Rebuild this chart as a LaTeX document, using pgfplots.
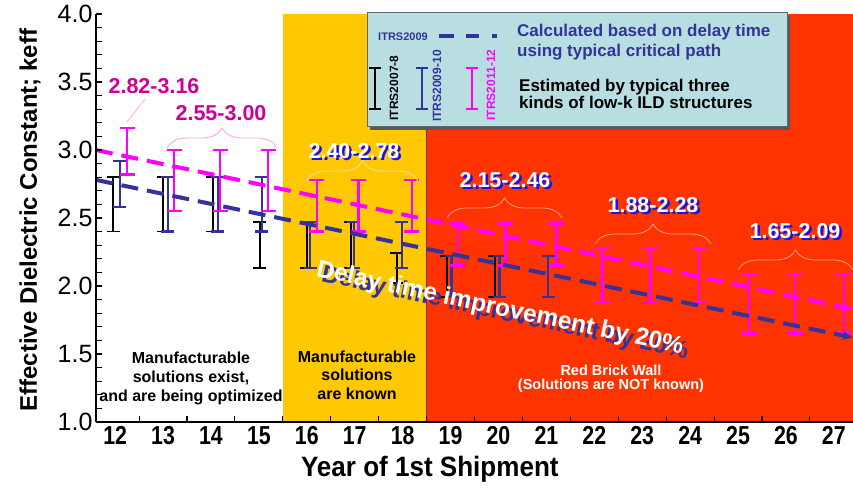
\documentclass[border=0pt]{standalone}
\usepackage{fontspec}
\setmainfont{Liberation Sans}
\newfontfamily\narrow[FakeStretch=0.82]{Liberation Sans}
\newfontfamily\semi[FakeStretch=0.93]{Liberation Sans}
\usepackage{pgfplots}
\pgfplotsset{compat=1.18}
\usetikzlibrary{arrows.meta,decorations.pathreplacing}

\definecolor{ybg}{RGB}{255,200,0}
\definecolor{rbg}{RGB}{255,51,0}
\definecolor{edge}{RGB}{110,60,0}
\definecolor{nblue}{RGB}{51,51,153}
\definecolor{mag}{RGB}{255,0,255}
\definecolor{labmag}{RGB}{204,0,153}
\definecolor{legbg}{RGB}{184,222,226}
\definecolor{shblue}{RGB}{20,20,235}
\definecolor{pinkline}{RGB}{255,160,225}
\definecolor{braceY}{RGB}{255,225,160}
\definecolor{braceR}{RGB}{255,160,130}

\newcommand{\fs}[1]{\fontsize{#1bp}{#1bp}\selectfont}

\pgfplotsset{
  ebar/.style n args={3}{draw=none, mark=none, forget plot,
    error bars/.cd, y dir=both, y explicit,
    error bar style={line width=#2, draw=#1},
    error mark options={rotate=90, line width=#2, draw=#1, mark size=#3}},
}

\begin{document}
\begin{tikzpicture}
\useasboundingbox (0,0) rectangle (853bp,489bp);
\begin{axis}[
    at={(96bp,67bp)}, anchor=south west,
    scale only axis, width=757bp, height=408bp,
    xmin=11.6, xmax=27.4, ymin=1, ymax=4,
    axis x line*=bottom, axis y line*=left,
    axis line style={line width=2.2bp, black},
    axis on top,
    clip=false,
    xtick={12,...,27},
    minor xtick={12.5,13.5,...,26.5},
    ytick={1.0,1.5,...,4.0},
    minor ytick={1.1,1.2,...,3.95},
    tick align=inside,
    major tick length=6bp, minor tick length=6bp,
    tick style={line width=1.1bp, black},
    major x tick style={draw=none},
    /pgf/number format/assume math mode=true,
    xticklabel style={font=\narrow\bfseries\fs{26}, yshift=-1bp},
    yticklabel style={font=\fs{25}, /pgf/number format/.cd, fixed, fixed zerofill, precision=1},
    xlabel={Year of 1st Shipment},
    xlabel style={font=\semi\bfseries\fs{28}, at={(axis description cs:0.441,-0.115)}, anchor=center},
    ylabel={Effective Dielectric Constant; keff},
    ylabel style={font=\bfseries\fs{24}, at={(axis description cs:-0.0872,0.495)}, anchor=center},
]
% region backgrounds
\addplot[fill=ybg, draw=none, forget plot] coordinates {(15.5,1) (18.5,1) (18.5,4) (15.5,4)};
\addplot[fill=rbg, draw=none, forget plot] coordinates {(18.5,1) (27.4,1) (27.4,4) (18.5,4)};
\addplot[draw=edge, line width=0.8bp, forget plot] coordinates {(18.5,1) (18.5,4)};

% ITRS2007-8
\addplot[ebar={black}{1.8bp}{6.5bp}]
coordinates {
    (11.96,2.60) +- (0,0.20)
    (13.00,2.60) +- (0,0.20)
    (14.04,2.60) +- (0,0.20)
    (15.02,2.30) +- (0,0.17)
    (16.00,2.30) +- (0,0.17)
    (16.92,2.30) +- (0,0.17)
    (17.88,2.13) +- (0,0.11)
    (18.92,2.07) +- (0,0.15)
    (19.92,2.07) +- (0,0.15)
};

% ITRS2009-10
\addplot[ebar={nblue}{2.2bp}{6.5bp}]
coordinates {
    (12.10,2.75) +- (0,0.17)
    (13.10,2.60) +- (0,0.20)
    (14.14,2.60) +- (0,0.20)
    (15.06,2.60) +- (0,0.20)
    (16.07,2.30) +- (0,0.17)
    (16.98,2.30) +- (0,0.17)
    (17.98,2.30) +- (0,0.17)
    (19.02,2.07) +- (0,0.15)
    (20.02,2.07) +- (0,0.15)
    (21.04,2.07) +- (0,0.15)
};

% ITRS2011-12
\addplot[ebar={mag}{2.4bp}{7.5bp}]
coordinates {
    (12.25,2.990) +- (0,0.170)
    (13.23,2.775) +- (0,0.225)
    (14.19,2.775) +- (0,0.225)
    (15.19,2.775) +- (0,0.225)
    (16.21,2.590) +- (0,0.190)
    (17.08,2.590) +- (0,0.190)
    (18.19,2.590) +- (0,0.190)
    (19.15,2.305) +- (0,0.155)
    (20.15,2.305) +- (0,0.155)
    (21.21,2.305) +- (0,0.155)
    (22.17,2.080) +- (0,0.200)
    (23.17,2.080) +- (0,0.200)
    (24.19,2.080) +- (0,0.200)
    (25.23,1.870) +- (0,0.220)
    (26.19,1.870) +- (0,0.220)
    (27.21,1.870) +- (0,0.220)
};

% delay-time trend lines
\addplot[mag, line width=4bp, dash pattern=on 17bp off 9bp, -{Stealth[length=11bp,width=9bp]}, forget plot]
    coordinates {(11.6,3.00) (27.4,1.83)};
\addplot[nblue, line width=4bp, dash pattern=on 17bp off 9bp, -{Stealth[length=11bp,width=9bp]}, forget plot]
    coordinates {(11.6,2.78) (27.4,1.62)};
\end{axis}

% annotations in pixel coordinates (origin top left)
\begin{scope}[shift={(0bp,489bp)}, x=1bp, y=-1bp]
  % legend box
  \fill[black!65] (370,16) rectangle (790,130);
  \filldraw[fill=legbg, draw=black!60, line width=1bp] (367,13) rectangle (787,127);
  \node[font=\bfseries\fs{11}, text=nblue] at (403,37) {ITRS2009};
  \draw[nblue, line width=4bp] (439,36) -- (454,36) (466,36) -- (479,36) (492,36) -- (497,36);
  \node[font=\bfseries\fs{17}, text=nblue, anchor=base west, inner sep=0] at (517,37) {Calculated based on delay time};
  \node[font=\bfseries\fs{17}, text=nblue, anchor=base west, inner sep=0] at (517,57) {using typical critical path};
  \node[font=\bfseries\fs{17}, text=black, anchor=base west, inner sep=0] at (519,92) {Estimated by typical three};
  \node[font=\bfseries\fs{17}, text=black, anchor=base west, inner sep=0] at (519,109) {kinds of low-k ILD structures};
  \draw[black, line width=1.6bp] (375,68) -- (375,109) (369,68) -- (381,68) (369,109) -- (381,109);
  \draw[nblue, line width=2bp] (422,68) -- (422,109) (416,68) -- (428,68) (416,109) -- (428,109);
  \draw[mag, line width=2bp] (472,68) -- (472,109) (466,68) -- (478,68) (466,109) -- (478,109);
  \node[rotate=90, font=\bfseries\fs{12}, text=black] at (394,88) {ITRS2007-8};
  \node[rotate=90, font=\bfseries\fs{12}, text=nblue] at (437,86) {ITRS2009-10};
  \node[rotate=90, font=\bfseries\fs{12}, text=mag] at (491,85) {ITRS2011-12};

  % range labels
  \draw[pinkline, line width=0.7bp] (145,99) -- (127,122);
  \node[font=\bfseries\fs{21.5}, text=labmag] at (154,86) {2.82-3.16};
  \node[font=\bfseries\fs{21.5}, text=labmag] at (221,113) {2.55-3.00};
  \draw[pinkline, line width=0.8bp, decorate, decoration={brace, amplitude=20bp}] (167,148) -- (277,148);

  \draw[braceY, line width=0.8bp, decorate, decoration={brace, amplitude=20bp}] (307,181) -- (418,181);
  \draw[braceR, line width=0.8bp, decorate, decoration={brace, amplitude=20bp}] (447,218) -- (562,218);
  \draw[braceR, line width=0.8bp, decorate, decoration={brace, amplitude=20bp}] (595,244) -- (711,244);
  \draw[braceR, line width=0.8bp, decorate, decoration={brace, amplitude=20bp}] (738,270) -- (853,270);
  \foreach \xx/\yy/\tt in {354/151/2.40-2.78, 505/180/2.15-2.46, 653/205/1.88-2.28, 795/231/1.65-2.09} {
    \node[font=\bfseries\fs{21.5}, text=shblue] at (\xx+2.5,\yy+2.5) {\tt};
    \node[font=\bfseries\fs{21.5}, text=white] at (\xx,\yy) {\tt};
  }

  % delay time text
  \node[rotate=-12, font=\bfseries\fs{24.5}, text=nblue] at (505,314) {Delay time improvement by 20\%};
  \node[rotate=-12, font=\bfseries\fs{24.5}, text=white] at (500,309) {Delay time improvement by 20\%};

  % region captions
  \node[font=\bfseries\fontsize{16bp}{19bp}\selectfont, align=center] at (191,378)
    {Manufacturable\\solutions exist,\\and are being optimized};
  \node[font=\bfseries\fontsize{16bp}{18.5bp}\selectfont, align=center] at (357,375)
    {Manufacturable\\solutions\\are known};
  \node[font=\bfseries\fontsize{14.5bp}{14.5bp}\selectfont, align=center, text=white] at (611,379)
    {Red Brick Wall\\(Solutions are NOT known)};
\end{scope}
\end{tikzpicture}
\end{document}
